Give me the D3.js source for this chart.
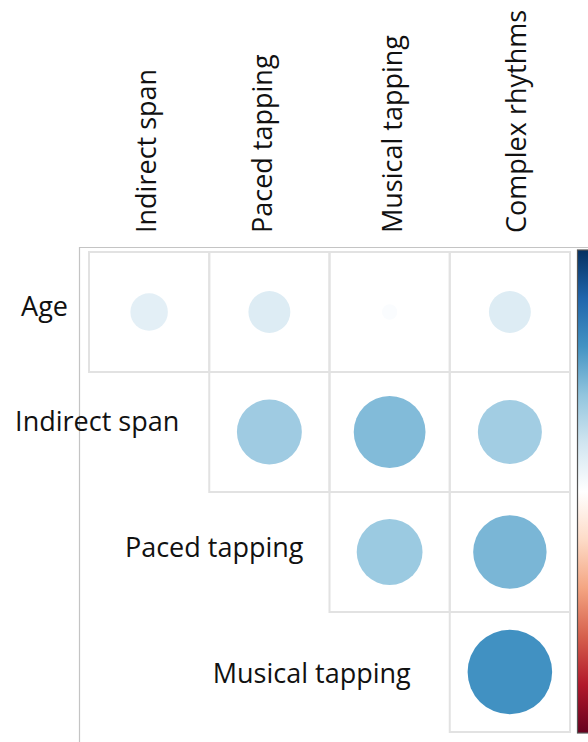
<html>
<head>
<script src="https://d3js.org/d3.v7.min.js"></script>
<style>
  body { margin: 0; background: #fff; }
  text { font-family: "Open Sans", Lato, sans-serif; fill: #111; }
</style>
</head>
<body>
<div id="plot"></div>
<script>
// variables (rows = y, cols = x), upper triangle of correlation matrix
var rows = ["Age", "Indirect span", "Paced tapping", "Musical tapping"];
var cols = ["Indirect span", "Paced tapping", "Musical tapping", "Complex rhythms"];
// correlations row by row, only cells with col >= row
var r_age      = [0.12, 0.15, 0.02, 0.15];
var r_indirect = [0.36, 0.44, 0.35];
var r_paced    = [0.37, 0.46];
var r_musical  = [0.61];
var corr_rows = [r_age, r_indirect, r_paced, r_musical];
// corrplot RdBu palette, from -1 to 1
var palette = ["#67001F", "#B2182B", "#D6604D", "#F4A582", "#FDDBC7", "#FFFFFF",
               "#D1E5F0", "#92C5DE", "#4393C3", "#2166AC", "#053061"];

var width = 588, height = 742;
var cell = { x0: 89, x1: 570, y0: 252, y1: 732 };
// hand placed label nudges
var rowLabelEnd = [-21, -30, -26, -39];
var rowLabelDy = [4, -1, 5, 11];
var colLabelDx = [6.5, 3, 12, 16];

var cells = [];
corr_rows.forEach(function (vals, i) {
    vals.forEach(function (v, k) {
        cells.push({ row: rows[i], col: cols[i + k], val: v });
    });
});

var svg = d3.select("#plot").append("svg")
    .attr("width", width)
    .attr("height", height);

var xScale = d3.scaleBand().domain(cols).range([cell.x0, cell.x1]);
var yScale = d3.scaleBand().domain(rows).range([cell.y0, cell.y1]);
var color = d3.scaleLinear()
    .domain(d3.range(palette.length).map(function (i) { return -1 + i * 0.2; }))
    .range(palette);
var bw = xScale.bandwidth();

// outer frame
svg.append("line").attr("x1", 80).attr("x2", width).attr("y1", 247.5).attr("y2", 247.5)
    .attr("stroke", "#c4c4c4").attr("stroke-width", 1.2);
svg.append("line").attr("x1", 79.5).attr("x2", 79.5).attr("y1", 247).attr("y2", height)
    .attr("stroke", "#c4c4c4").attr("stroke-width", 1.2);

// cell borders
svg.append("g").selectAll("rect")
    .data(cells).enter().append("rect")
    .attr("x", function (d) { return xScale(d.col); })
    .attr("y", function (d) { return yScale(d.row); })
    .attr("width", bw)
    .attr("height", yScale.bandwidth())
    .attr("fill", "none")
    .attr("stroke", "#e2e2e2")
    .attr("stroke-width", 2);

// circles, area ~ |r| like corrplot
svg.append("g").selectAll("circle")
    .data(cells).enter().append("circle")
    .attr("cx", function (d) { return xScale(d.col) + bw / 2; })
    .attr("cy", function (d) { return yScale(d.row) + yScale.bandwidth() / 2; })
    .attr("r", function (d) { return 0.45 * bw * Math.sqrt(Math.abs(d.val)); })
    .attr("fill", function (d) { return color(d.val); });

// column labels
svg.append("g").selectAll("text")
    .data(cols).enter().append("text")
    .attr("transform", function (d, i) {
        return "translate(" + (xScale(d) + bw / 2 + colLabelDx[i]) + ",233) rotate(-90)";
    })
    .attr("font-size", 27)
    .text(function (d) { return d; });

// row labels
svg.append("g").selectAll("text")
    .data(rows).enter().append("text")
    .attr("x", function (d, i) { return xScale(cols[i]) + rowLabelEnd[i]; })
    .attr("y", function (d, i) { return yScale(d) + yScale.bandwidth() / 2 + rowLabelDy[i]; })
    .attr("text-anchor", "end")
    .attr("font-size", 27)
    .text(function (d) { return d; });

// colour legend bar (cut off at right edge)
var grad = svg.append("defs").append("linearGradient")
    .attr("id", "cbar").attr("x1", 0).attr("x2", 0).attr("y1", 0).attr("y2", 1);
palette.slice().reverse().forEach(function (c, i) {
    grad.append("stop").attr("offset", (i / (palette.length - 1) * 100) + "%").attr("stop-color", c);
});
svg.append("rect")
    .attr("x", 577.5).attr("y", 250).attr("width", 30).attr("height", 483)
    .attr("fill", "url(#cbar)")
    .attr("stroke", "#555").attr("stroke-width", 1.2);
</script>
</body>
</html>
